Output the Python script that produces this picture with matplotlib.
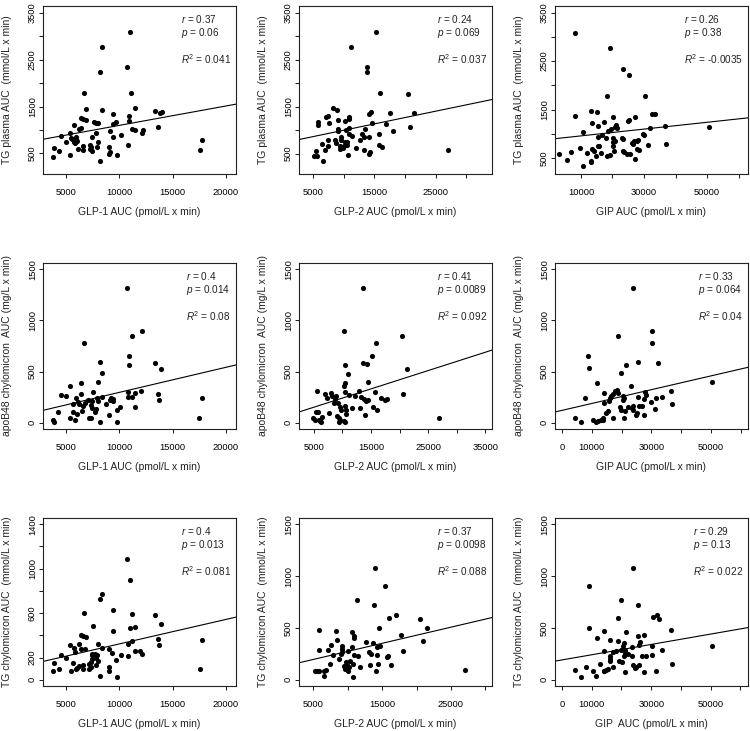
import matplotlib
matplotlib.use("Agg")
import matplotlib.pyplot as plt

plt.rcParams['font.family'] = ['Liberation Sans', 'DejaVu Sans']
plt.rcParams['mathtext.fontset'] = 'custom'
plt.rcParams['mathtext.rm'] = 'Liberation Sans'
plt.rcParams['mathtext.it'] = 'Liberation Sans:italic'

# ---- data ----
# row 1: TG plasma AUC
glp1_tg_x = [11000, 8375, 8187, 10687, 6719, 11125, 6844, 8375, 11469, 13375, 13781, 13969, 9437, 10875, 6437,
             6625, 6906, 5750, 7594, 7781, 7969, 9406, 9719, 10937, 6219, 6437, 11156, 11469, 12250, 12125, 13625,
             4500, 5375, 7844, 9125, 10125, 7437, 9437, 5594, 5937, 5969, 5031, 5750, 5875, 7969, 3906, 4344, 6156,
             6594, 6594, 7219, 7312, 7281, 7469, 7875, 9031, 9125, 10844, 3812, 5375, 9031, 9781, 8219, 17531,
             17781, 5469, 6031]
glp1_tg_y = [3086, 2779, 2236, 2336, 1786, 1779, 1450, 1421, 1464, 1407, 1364, 1379, 1350, 1307, 1250, 1243, 1221,
             1107, 1171, 1150, 1143, 1129, 1164, 1193, 1029, 1036, 1021, 1007, 993, 943, 1071, 879, 929, 943, 979,
             900, 850, 850, 807, 850, 793, 736, 736, 714, 736, 614, 557, 586, 664, 579, 671, 636, 600, 557, 636,
             629, 536, 679, 429, 457, 486, 464, 336, 579, 793, 836, 764]

glp2_tg_x = [15326, 11250, 13859, 13859, 15978, 20435, 8315, 8913, 21522, 14130, 14402, 17609, 7174, 7500, 5761,
             5815, 7663, 9130, 10163, 10815, 10870, 14674, 16848, 20815, 9130, 9076, 10435, 10815, 13533, 18043,
             10870, 11304, 13043, 13261, 14185, 15707, 8533, 9620, 10598, 12609, 7500, 8750, 6467, 7391, 9456,
             10054, 10543, 9402, 9837, 11957, 15815, 16250, 6902, 5163, 5652, 5435, 6630, 10761, 13261, 14239,
             14076, 26957, 10272, 9620]
glp2_tg_y = [3086, 2779, 2336, 2236, 1786, 1771, 1464, 1421, 1371, 1350, 1386, 1357, 1271, 1307, 1179, 1107, 1150,
             1221, 1200, 1243, 1271, 1150, 1121, 1071, 1029, 986, 1000, 1043, 1014, 979, 921, 879, 914, 864, 850,
             907, 786, 800, 757, 793, 786, 729, 707, 657, 671, 664, 679, 607, 614, 621, 679, 643, 571, 457, 450,
             557, 343, 464, 571, 529, 500, 579, 750, 857]

gip_tg_x = [7995, 19288, 23193, 25303, 18338, 30158, 13166, 15172, 8206, 20026, 25198, 24987, 27203, 32480, 33430,
            13483, 15488, 17388, 21187, 20765, 21504, 19604, 18443, 31741, 36596, 50739, 10739, 16544, 15383,
            17916, 20132, 23087, 23298, 29630, 29947, 15277, 15805, 20026, 20659, 20026, 26463, 26040, 26779,
            27624, 28046, 27624, 23193, 20554, 13483, 14117, 9578, 6939, 12005, 16438, 14749, 18232, 19182, 23720,
            24459, 25514, 3140, 5567, 13166, 13272, 10739, 27203, 28257, 31213, 37018]
gip_tg_y = [3074, 2770, 2327, 2223, 1773, 1780, 1462, 1448, 1372, 1351, 1289, 1268, 1351, 1400, 1407, 1220, 1164,
            1240, 1192, 1150, 1123, 1095, 1067, 1123, 1171, 1144, 1047, 971, 943, 922, 922, 915, 888, 998, 977,
            749, 742, 839, 846, 742, 784, 818, 846, 860, 881, 680, 638, 652, 680, 645, 701, 618, 611, 611, 555,
            548, 569, 618, 576, 576, 576, 465, 438, 417, 341, 486, 673, 770, 784]

# row 2: apoB48 chylomicron AUC
glp1_apo_x = [10687, 11156, 12156, 6719, 10937, 10906, 8187, 13375, 13906, 8375, 8000, 6406, 5406, 4500, 5031,
              6406, 7531, 10844, 11500, 12000, 13625, 13750, 8375, 9250, 9437, 9125, 9406, 10812, 11219, 7937,
              7969, 5906, 6094, 5625, 6750, 7437, 7375, 6562, 6500, 5625, 6000, 4281, 7781, 7719, 9062, 9750,
              10062, 11469, 7187, 7312, 5406, 5844, 3781, 3906, 8187, 9750, 17500, 17750, 7406, 7094, 8750, 6219]
glp1_apo_y = [1313, 845, 900, 777, 648, 561, 590, 580, 529, 484, 400, 387, 361, 274, 261, 284, 303, 300, 294, 313,
              277, 219, 252, 245, 232, 223, 216, 248, 252, 242, 210, 245, 200, 187, 194, 216, 171, 161, 113, 106,
              84, 110, 132, 106, 77, 126, 155, 155, 48, 48, 52, 32, 32, 13, 10, 13, 52, 239, 142, 226, 181, 184]

glp2_apo_x = [13655, 10263, 20380, 15819, 15117, 13655, 14298, 10439, 21374, 11023, 14415, 10556, 10380, 5526,
              7047, 7398, 8099, 8275, 8860, 8684, 9269, 8567, 9561, 10439, 11199, 12895, 12251, 13304, 13772,
              14064, 14532, 15643, 16754, 17456, 17807, 20556, 15409, 15994, 13070, 11667, 10497, 10673, 9854,
              9094, 9444, 9678, 10263, 9386, 10731, 10556, 13947, 5760, 5468, 4883, 5175, 5936, 6170, 6345, 6462,
              7632, 26871]
glp2_apo_y = [1313, 900, 845, 777, 648, 587, 577, 561, 529, 481, 400, 387, 361, 306, 284, 242, 290, 258, 265, 232,
              194, 194, 152, 297, 274, 306, 258, 252, 232, 216, 226, 300, 242, 219, 235, 277, 152, 129, 145, 145,
              161, 126, 129, 71, 48, 32, 16, 13, 90, 10, 77, 106, 106, 48, 32, 29, 16, 6, 61, 97, 52]

gip_apo_x = [23661, 30134, 30357, 18862, 8817, 9040, 21429, 25558, 32366, 19754, 11607, 23214, 50223, 7812, 13951,
             17857, 18304, 18862, 17187, 16406, 16071, 15848, 13951, 20424, 20536, 20871, 22098, 23549, 23884,
             23661, 25446, 25893, 26786, 27567, 28013, 27902, 30022, 31696, 33594, 36496, 36942, 31362, 25000,
             24665, 27344, 19531, 19866, 20982, 20759, 17076, 15513, 14844, 13839, 13616, 12946, 12165, 11272,
             10379, 4353, 6473]
gip_apo_y = [1313, 897, 777, 845, 648, 532, 561, 590, 580, 484, 387, 361, 400, 242, 294, 306, 316, 290, 284, 265,
             242, 210, 194, 258, 226, 242, 155, 145, 129, 168, 252, 168, 161, 235, 274, 297, 206, 242, 252, 306,
             184, 135, 97, 81, 81, 155, 129, 119, 48, 52, 113, 100, 48, 32, 23, 16, 6, 29, 52, 13]

# row 3: TG chylomicron AUC
glp1_tgc_x = [10687, 11000, 8375, 8187, 6719, 9375, 11156, 13375, 13875, 7562, 11469, 10969, 9406, 6437, 6594,
              6875, 13594, 11156, 10844, 8000, 5375, 5750, 6219, 6406, 6812, 8406, 9062, 9312, 10125, 10812, 13687,
              11500, 11969, 12156, 4500, 5031, 5875, 7750, 7906, 7406, 7469, 7844, 8000, 9687, 7312, 7187, 7312,
              7187, 7781, 5625, 6219, 6000, 5906, 6594, 6594, 5437, 3906, 4344, 3781, 9062, 9062, 8219, 9781,
              17781, 17531, 7469]
glp1_tgc_y = [1083, 899, 769, 724, 600, 628, 591, 585, 501, 483, 474, 462, 435, 407, 398, 383, 371, 353, 323, 323,
              314, 290, 323, 281, 278, 284, 275, 241, 223, 211, 311, 260, 263, 235, 226, 193, 250, 235, 220, 229,
              223, 193, 169, 175, 163, 142, 118, 97, 136, 148, 127, 109, 97, 136, 97, 81, 148, 97, 75, 118, 75, 33,
              24, 362, 97, 187]

glp2_tgc_x = [13927, 15390, 11341, 13878, 16951, 20512, 16024, 14561, 21585, 5780, 8366, 10658, 10902, 10951, 8463,
              17780, 20902, 5878, 7634, 7195, 9146, 9146, 9146, 9000, 7829, 10610, 12658, 13634, 14756, 14268,
              13146, 13390, 14268, 11439, 10902, 10024, 8805, 10366, 9780, 9976, 9537, 9585, 10024, 10268, 10756,
              11829, 13293, 14463, 15878, 15732, 16317, 18073, 14171, 10854, 6854, 7488, 6610, 5244, 5537, 5780,
              6512, 27098]
glp2_tgc_y = [1081, 900, 773, 722, 628, 589, 599, 495, 502, 482, 472, 460, 417, 401, 385, 434, 372, 288, 330, 282,
              324, 291, 269, 249, 239, 314, 359, 350, 327, 314, 265, 246, 239, 227, 236, 272, 194, 178, 165, 142,
              129, 104, 87, 117, 152, 123, 139, 155, 223, 214, 139, 272, 78, 26, 94, 155, 39, 84, 87, 78, 84, 97]

gip_tgc_x = [23740, 8959, 19933, 25644, 18813, 31803, 32587, 30571, 9183, 36618, 13998, 21613, 11646, 16125, 18925,
             20941, 25420, 27548, 26316, 25980, 23516, 20605, 30123, 50504, 14222, 17245, 18253, 19709, 21277,
             21165, 22172, 20829, 16125, 16125, 16237, 19261, 20045, 26876, 28108, 30235, 33595, 23628, 25756,
             24860, 23740, 24412, 17133, 14894, 14222, 13998, 12654, 15342, 21053, 27548, 31691, 37066, 4255, 7951,
             10526, 11534, 6495]
gip_tgc_y = [1081, 900, 773, 722, 592, 628, 586, 602, 502, 482, 472, 460, 401, 385, 372, 353, 417, 434, 359, 337,
             314, 327, 324, 327, 278, 265, 275, 285, 282, 259, 249, 230, 227, 201, 181, 184, 168, 227, 227, 236,
             282, 223, 136, 120, 142, 113, 126, 97, 87, 78, 149, 104, 71, 71, 87, 149, 97, 120, 84, 32, 23]

# fitted lines (intercept, slope)
fit_intercepts = [684, 726, 889, 53, 62.6, 121.8, 102.6, 116, 189.7]
fit_slopes = [0.0414, 0.02708, 0.00701, 0.02447, 0.0179, 0.006735, 0.02204, 0.0156, 0.004993]

r_values = ['0.37', '0.24', '0.26', '0.4', '0.41', '0.33', '0.4', '0.37', '0.29']
p_values = ['0.06', '0.069', '0.38', '0.014', '0.0089', '0.064', '0.013', '0.0098', '0.13']
r2_values = ['0.041', '0.037', '-0.0035', '0.08', '0.092', '0.04', '0.081', '0.088', '0.022']

x_labels = ['GLP-1 AUC (pmol/L x min)', 'GLP-2 AUC (pmol/L x min)', 'GIP AUC (pmol/L x min)',
            'GLP-1 AUC (pmol/L x min)', 'GLP-2 AUC (pmol/L x min)', 'GIP AUC (pmol/L x min)',
            'GLP-1 AUC (pmol/L x min)', 'GLP-2 AUC (pmol/L x min)', 'GIP  AUC (pmol/L x min)']
y_labels = ['TG plasma AUC  (mmol/L x min)'] * 3 + \
           ['apoB48 chylomicron  AUC (mg/L x min)'] * 3 + \
           ['TG chylomicron AUC  (mmol/L x min)'] * 3

xt_glp1 = [5000, 10000, 15000, 20000]
xl_glp1 = ['5000', '10000', '15000', '20000']
xt_glp2 = [5000, 10000, 15000, 20000, 25000, 30000]
xl_glp2 = ['5000', '', '15000', '', '25000', '']
xt_glp2b = [5000, 10000, 15000, 20000, 25000, 30000, 35000]
xl_glp2b = ['5000', '', '15000', '', '25000', '', '35000']
xt_gip = [10000, 20000, 30000, 40000, 50000, 60000]
xl_gip = ['10000', '', '30000', '', '50000', '']
xt_gip0 = [0, 10000, 20000, 30000, 40000, 50000, 60000]
xl_gip0 = ['0', '10000', '', '30000', '', '50000', '']
yt_tg = [500, 1000, 1500, 2000, 2500, 3000, 3500]
yl_tg = ['500', '', '1500', '', '2500', '', '3500']
yt_1500 = [0, 500, 1000, 1500]
yl_1500 = ['0', '500', '1000', '1500']
yt_1400 = [0, 200, 400, 600, 800, 1000, 1200, 1400]
yl_1400 = ['0', '200', '', '600', '', '1000', '', '1400']

xs = [glp1_tg_x, glp2_tg_x, gip_tg_x, glp1_apo_x, glp2_apo_x, gip_apo_x, glp1_tgc_x, glp2_tgc_x, gip_tgc_x]
ys = [glp1_tg_y, glp2_tg_y, gip_tg_y, glp1_apo_y, glp2_apo_y, gip_apo_y, glp1_tgc_y, glp2_tgc_y, gip_tgc_y]
xticks = [(xt_glp1, xl_glp1), (xt_glp2, xl_glp2), (xt_gip, xl_gip),
          (xt_glp1, xl_glp1), (xt_glp2b, xl_glp2b), (xt_gip0, xl_gip0),
          (xt_glp1, xl_glp1), (xt_glp2, xl_glp2), (xt_gip0, xl_gip0)]
yticks = [(yt_tg, yl_tg)] * 3 + [(yt_1500, yl_1500)] * 3 + \
         [(yt_1400, yl_1400), (yt_1500, yl_1500), (yt_1500, yl_1500)]

# axis ranges (as drawn)
xlims = [(2830, 20930), (2720, 34200), (1770, 62980),
         (2830, 20930), (2430, 36170), (-2340, 62390),
         (2830, 20930), (2950, 30950), (-2350, 62540)]
ylims = [(60, 3645), (65, 3645), (174, 3635),
         (-60, 1560), (-60, 1560), (-60, 1560),
         (-56, 1456), (-62, 1560), (-62, 1560)]

# ---- layout in pixels ----
W, H = 750, 731
cols = [(43, 236), (299, 492), (555, 748)]
rows = [(6, 174), (263, 429), (518, 686)]

fig = plt.figure(figsize=(W / 100, H / 100), dpi=100)

for i in range(9):
    (l, r), (t, b) = cols[i % 3], rows[i // 3]
    ax = fig.add_axes([l / W, 1 - b / H, (r - l) / W, (b - t) / H])
    ax.plot(xs[i], ys[i], 'o', color='black', markersize=3.7, markeredgewidth=0)
    ax.axline((0, fit_intercepts[i]), slope=fit_slopes[i], color='black', lw=0.8)
    ax.set_xlim(xlims[i])
    ax.set_ylim(ylims[i])

    ax.set_xticks(xticks[i][0])
    ax.set_xticklabels(xticks[i][1])
    ax.set_yticks(yticks[i][0])
    ax.set_yticklabels(yticks[i][1], rotation=90, va='center')
    ax.tick_params(direction='out', length=3.2, width=0.75, labelsize=6.7, color='#222222')
    ax.tick_params(axis='x', pad=6.8)
    ax.tick_params(axis='y', pad=1.2)
    for s in ax.spines.values():
        s.set_linewidth(0.8)
        s.set_color('#222222')

    ax.set_xlabel(x_labels[i], fontsize=7.5, va='center', color='#222222')
    ax.xaxis.set_label_coords(0.5, -38 / (b - t))
    ax.set_ylabel(y_labels[i], fontsize=7.5, va='center', color='#222222')
    ax.yaxis.set_label_coords(-36 / (r - l), 0.5)

    txt = '$r$ = ' + r_values[i] + '\n$p$ = ' + p_values[i] + '\n\n$R^2$ = ' + r2_values[i]
    ax.text(1 - 5 / (r - l), 1 - 7 / (b - t), txt, transform=ax.transAxes, ha='right', va='top',
            multialignment='left', fontsize=7.2, linespacing=1.12, color='#222222')

fig.savefig('out.png', dpi=100)
